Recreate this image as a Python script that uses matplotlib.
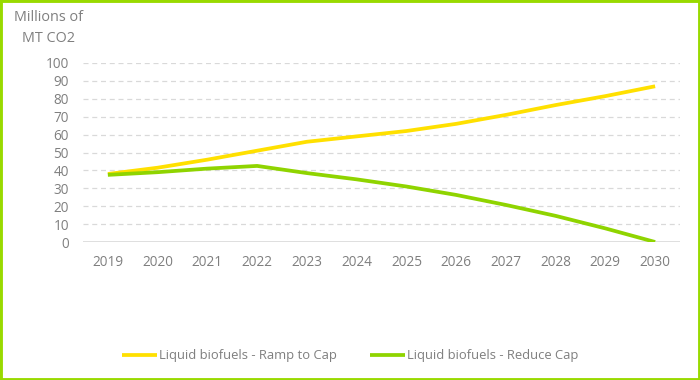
import matplotlib
matplotlib.use("Agg")
import matplotlib.pyplot as plt
from matplotlib.patches import Rectangle

years = ["2019", "2020", "2021", "2022", "2023", "2024", "2025", "2026", "2027", "2028", "2029", "2030"]
ramp_to_cap = [38, 41.5, 46, 51, 56, 59, 62, 66, 71, 76.5, 81.5, 87]
reduce_cap = [37.5, 39, 41, 42.5, 38.5, 35, 31, 26.3, 20.7, 14.6, 7.6, 0]
yticks = [0, 10, 20, 30, 40, 50, 60, 70, 80, 90, 100]
series_names = ["Liquid biofuels - Ramp to Cap", "Liquid biofuels - Reduce Cap"]
y_title = "Millions of\nMT CO2"

plt.rcParams['font.family'] = ['Open Sans', 'DejaVu Sans']
txt = '#7f7f7f'
grid_c = '#d9d9d9'
yellow = '#FFE000'
green = '#8FD400'
border = '#99DA00'

fig = plt.figure(figsize=(7, 3.8), dpi=100)
ax = fig.add_axes([83/700, (380-242)/380, (680-83)/700, 179/380])

x = list(range(len(years)))
ax.plot(x, ramp_to_cap, color=yellow, lw=2.7, label=series_names[0], solid_capstyle='butt')
ax.plot(x, reduce_cap, color=green, lw=2.7, label=series_names[1], solid_capstyle='butt')

ax.set_xlim(-0.5, len(years) - 0.5)
ax.set_ylim(0, 100)
ax.set_xticks(x)
ax.set_xticklabels(years)
ax.set_yticks(yticks)
ax.set_yticklabels([str(v) for v in yticks])
for v in yticks[1:]:
    ax.axhline(v, color=grid_c, lw=0.9, ls=(0, (4, 3)), zorder=0)
ax.axhline(0, color=grid_c, lw=1.2, zorder=0)
for s in ax.spines.values():
    s.set_visible(False)
ax.tick_params(axis='both', length=0, colors=txt, labelsize=9.8)
ax.tick_params(axis='y', pad=10)
ax.tick_params(axis='x', pad=9.5)

fig.text(48/700, 1 - 28/380, y_title, ha='center', va='center', color=txt,
         fontsize=10.4, linespacing=1.5)

fig.legend(loc='center', bbox_to_anchor=(350/700, 1 - 356/380), ncol=2, frameon=False,
           fontsize=9.4, labelcolor=txt, handlelength=2.7, handletextpad=0.15,
           columnspacing=2.5)

fig.patches.append(Rectangle((0, 0), 1, 1, transform=fig.transFigure, fill=False,
                             edgecolor=border, lw=3.5, zorder=10))

fig.savefig("out.png", dpi=100)
